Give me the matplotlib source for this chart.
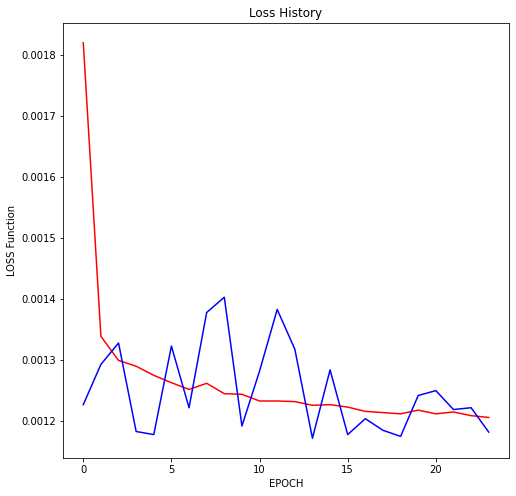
import numpy as np
import matplotlib
matplotlib.use('Agg')
import matplotlib.pyplot as plt

# valores
epochs = list(range(24))
loss_red = [0.00182, 0.001339, 0.0012995, 0.00129, 0.001275, 0.001263, 0.001252, 0.001262,
            0.001245, 0.001244, 0.001233, 0.001233, 0.001232, 0.001226, 0.001227, 0.001223,
            0.001216, 0.001214, 0.001212, 0.001218, 0.001212, 0.001215, 0.001209, 0.001206]
loss_blue = [0.001227, 0.001293, 0.001328, 0.001183, 0.001178, 0.001323, 0.001222, 0.001378,
             0.001403, 0.001192, 0.001282, 0.001383, 0.001318, 0.001172, 0.001284, 0.001178,
             0.001204, 0.001185, 0.001175, 0.001242, 0.00125, 0.001219, 0.001222, 0.001182]

# dpi 72: 1pt = 1px
fig = plt.figure(figsize=(516 / 72, 496 / 72), dpi=72)
ax = fig.add_axes([63 / 516, 38 / 496, 446 / 516, 435 / 496])

ax.plot(epochs, loss_red, color='red')
ax.plot(epochs, loss_blue, color='blue')

ax.set_title('Loss History')
ax.set_xlabel('EPOCH')
ax.set_ylabel('LOSS Function')

plt.savefig('out.png', dpi=72)
plt.close(fig)
